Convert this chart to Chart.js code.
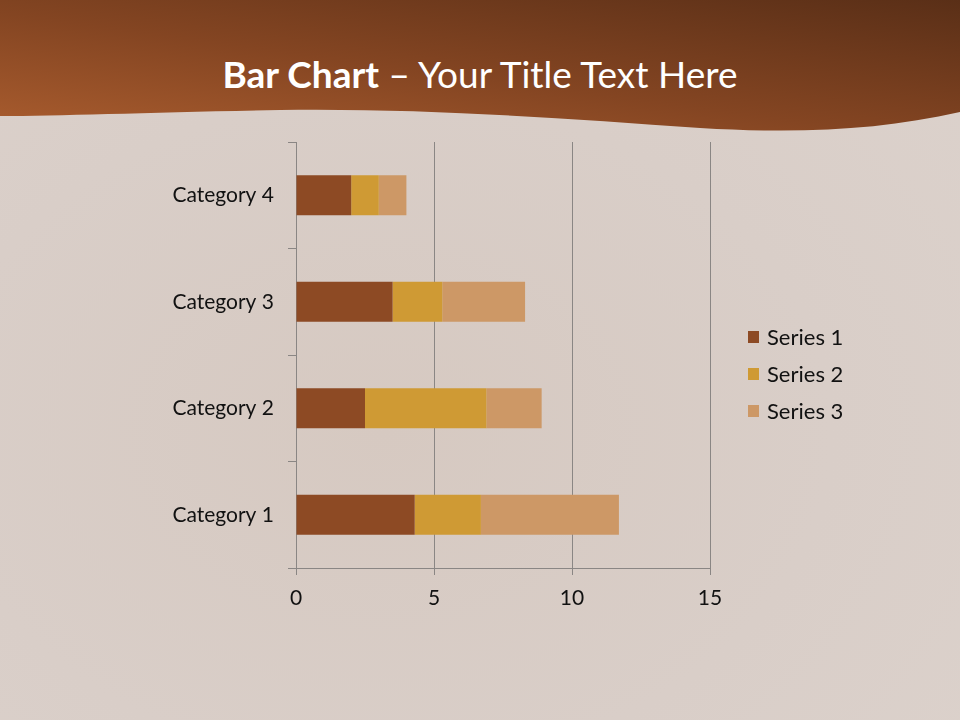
<!DOCTYPE html>
<html lang="en">
<head>
    <meta charset="UTF-8">
    <title>Bar Chart</title>
    <script src="https://cdn.jsdelivr.net/npm/chart.js"></script>
    <style>
        html, body { margin: 0; padding: 0; }
        body {
            width: 960px; height: 720px; position: relative; overflow: hidden;
            background: radial-gradient(ellipse at 40% 60%, #d6c9c1 0%, #d9cec8 55%, #dcd2cc 100%);
            font-family: Lato, "Open Sans", sans-serif;
        }
        #header { position: absolute; left: 0; top: 0; }
        #title {
            position: absolute; left: 0; top: 52px; width: 960px; text-align: center;
            color: #fff; font-size: 37px; line-height: 44px;
        }
        #title b { font-weight: 700; }
        #wrap { position: absolute; left: 0; top: 0; width: 960px; height: 720px; }
        #legend { position: absolute; left: 748px; top: 318px; font-size: 22px; color: #111; }
        #legend div { height: 37px; display: flex; align-items: center; }
        #legend span.box { display: inline-block; width: 11px; height: 12px; margin-right: 8px; }
    </style>
</head>
<body>
    <svg id="header" width="960" height="140">
        <defs>
            <linearGradient id="hg" x1="0" y1="1" x2="1" y2="0">
                <stop offset="0" stop-color="#a95c2e"/>
                <stop offset="0.45" stop-color="#844522"/>
                <stop offset="1" stop-color="#5a2f17"/>
            </linearGradient>
        </defs>
        <path d="M0 0 H960 V112 C880 130 800 134 700 128 C560 118 420 108 280 110 C160 112 60 116 0 116 Z" fill="url(#hg)"/>
    </svg>
    <div id="title"><b>Bar Chart</b> – Your Title Text Here</div>

    <div id="wrap"><canvas id="barChart" width="960" height="720"></canvas></div>
    <div id="legend"></div>

    <script>
        const categories = ['Category 1', 'Category 2', 'Category 3', 'Category 4'];
        const series1 = [4.3, 2.5, 3.5, 2];
        const series2 = [2.4, 4.4, 1.8, 1];
        const series3 = [5, 2, 3, 1];
        const seriesNames = ['Series 1', 'Series 2', 'Series 3'];
        const seriesColors = ['#8d4a24', '#cf9a34', '#cd9866'];
        const xTicks = [0, 5, 10, 15];

        const axisColor = '#8a8684';

        const chart = new Chart(document.getElementById('barChart'), {
            type: 'bar',
            data: {
                labels: categories,
                datasets: [series1, series2, series3].map((d, i) => ({
                    label: seriesNames[i],
                    data: d,
                    backgroundColor: seriesColors[i],
                    borderWidth: 0,
                    barPercentage: 0.375,
                    categoryPercentage: 1
                }))
            },
            options: {
                indexAxis: 'y',
                responsive: false,
                animation: false,
                layout: { padding: { left: 0, right: 250, top: 142, bottom: 112 } },
                plugins: { legend: { display: false }, tooltip: { enabled: false } },
                scales: {
                    x: {
                        stacked: true,
                        min: 0, max: 15,
                        afterBuildTicks: s => { s.ticks = xTicks.map(v => ({ value: v })); },
                        afterFit: s => { s.height = 40; },
                        border: { color: axisColor, width: 1 },
                        grid: { color: axisColor, lineWidth: 1, tickLength: 7, drawTicks: true },
                        ticks: { color: '#111', font: { family: 'Lato', size: 21 }, padding: 11 }
                    },
                    y: {
                        stacked: true,
                        reverse: true,
                        afterFit: s => { s.width = 296; },
                        border: { color: axisColor, width: 1 },
                        grid: { color: axisColor, lineWidth: 1, tickLength: 8, drawOnChartArea: false, offset: true },
                        ticks: { color: '#111', font: { family: 'Lato', size: 21 }, padding: 14 }
                    }
                }
            }
        });

        const legend = document.getElementById('legend');
        chart.data.datasets.forEach(ds => {
            const row = document.createElement('div');
            row.innerHTML = '<span class="box" style="background:' + ds.backgroundColor + '"></span>' + ds.label;
            legend.appendChild(row);
        });
    </script>
</body>
</html>
